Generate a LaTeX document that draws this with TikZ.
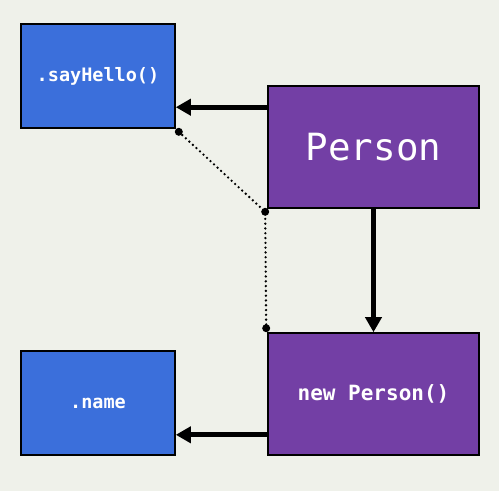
\documentclass[tikz,border=0pt]{standalone}
\usepackage{fontspec}
\setmonofont{DejaVu Sans Mono}
\usetikzlibrary{arrows.meta,calc}
\definecolor{bg}{HTML}{EFF1EA}
\definecolor{boxblue}{HTML}{3B6FDB}
\definecolor{boxpurple}{HTML}{733FA5}
\tikzset{
  box/.style={draw=black, line width=1.6pt, rectangle, text=white, inner sep=0pt, font=\ttfamily},
  bluebox/.style={box, fill=boxblue, minimum width=154pt, minimum height=104pt},
  purplebox/.style={box, fill=boxpurple, minimum width=211pt},
  bigarrow/.style={line width=5pt, -{Triangle[length=15pt,width=16pt]}},
  dotline/.style={line width=2.6pt, dash pattern=on 0pt off 4.8pt, line cap=round},
  dotmark/.style={fill=black, circle, inner sep=0pt, minimum size=8pt}
}
\begin{document}
\begin{tikzpicture}[x=1pt,y=-1pt]
\fill[bg] (0,0) rectangle (499,491);
\useasboundingbox (0,0) rectangle (499,491);
\node[bluebox, font=\ttfamily\bfseries\fontsize{18.5}{22}\selectfont] (say) at (98,76) {.sayHello()};
\node[bluebox, font=\ttfamily\bfseries\fontsize{18.5}{22}\selectfont] (name) at (98,403) {.name};
\node[purplebox, minimum height=122pt, font=\ttfamily\fontsize{37.5}{42}\selectfont] (person) at (373.5,147) {Person};
\node[purplebox, minimum height=122pt, font=\ttfamily\bfseries\fontsize{21}{25}\selectfont] (np) at (373.5,394) {new Person()};
\draw[bigarrow] ([yshift=-22pt]person.north west) -- ([yshift=-22pt]person.north west -| say.east);
\draw[bigarrow] (person.south) -- (np.north);
\draw[bigarrow] ([yshift=21pt]np.south west) -- ([yshift=21pt]np.south west -| name.east);
\coordinate (d1) at ([xshift=3pt,yshift=-3pt]say.south east);
\coordinate (d2) at ([xshift=-2pt,yshift=-3pt]person.south west);
\coordinate (d3) at ([xshift=-1pt,yshift=4pt]np.north west);
\draw[dotline] (d1) -- (d2) -- (d3);
\node[dotmark] (m1) at (d1) {};
\node[dotmark] (m2) at (d2) {};
\node[dotmark] (m3) at (d3) {};
\end{tikzpicture}
\end{document}
